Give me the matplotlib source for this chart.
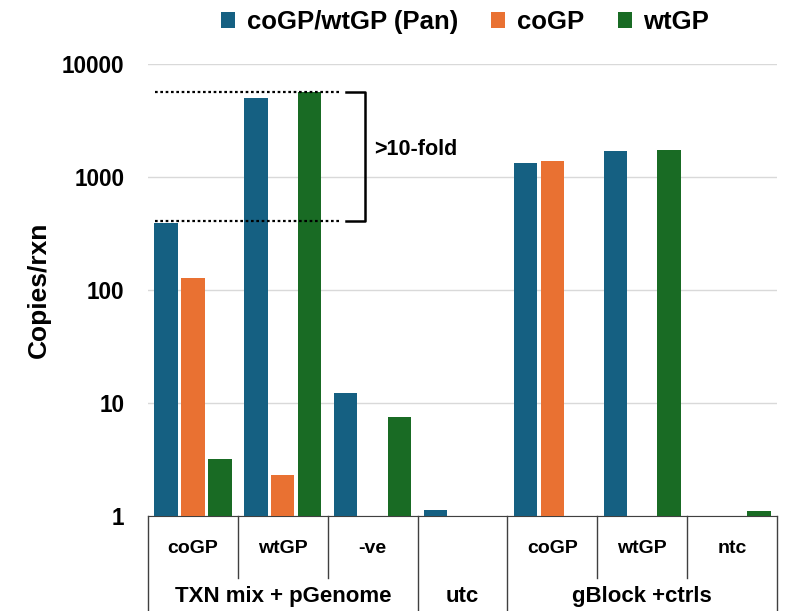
import numpy as np
import matplotlib
matplotlib.use('Agg')
from matplotlib import pyplot as plt
from matplotlib.transforms import blended_transform_factory

# data (copies/rxn), nan = no bar
categories = ['coGP', 'wtGP', '-ve', 'utc', 'coGP', 'wtGP', 'ntc']
groups = [('TXN mix + pGenome', 0, 2), ('utc', 3, 3), ('gBlock +ctrls', 4, 6)]
series_names = ['coGP/wtGP (Pan)', 'coGP', 'wtGP']
pan = [389, 4970, 12.3, 1.13, 1322, 1688, np.nan]
cogp = [128, 2.29, np.nan, np.nan, 1394, np.nan, np.nan]
wtgp = [3.18, 5690, 7.57, np.nan, np.nan, 1733, 1.1]
yticks = [1, 10, 100, 1000, 10000]

colors = ['#156082', '#E97132', '#196B24']
plt.rcParams['font.family'] = ['Liberation Sans', 'DejaVu Sans']

fig = plt.figure(figsize=(7.87, 6.11), dpi=100)
ax = fig.add_axes([148 / 787, 95 / 611, 629 / 787, 452 / 611])

x = np.arange(len(categories))
step, w = 0.3, 0.26
for i, (vals, c, name) in enumerate(zip([pan, cogp, wtgp], colors, series_names)):
    ax.bar(x + (i - 1) * step, vals, w, color=c, label=name, zorder=3)

ax.set_yscale('log')
ax.set_ylim(1, 10000)
ax.set_xlim(-0.5, len(categories) - 0.5)
ax.set_yticks(yticks)
ax.set_yticklabels([str(t) for t in yticks], fontsize=16.3, fontweight='bold')
ax.yaxis.set_minor_locator(matplotlib.ticker.NullLocator())
ax.tick_params(axis='y', length=0, pad=17)
ax.set_xticks([])
ax.grid(axis='y', color='#d9d9d9', lw=1, zorder=0)
for s in ['left', 'right', 'top']:
    ax.spines[s].set_visible(False)
ax.spines['bottom'].set_color('#404040')
ax.set_ylabel('Copies/rxn', fontsize=19, fontweight='bold')
ax.yaxis.set_label_coords(-0.155, 0.5)

# two-level category axis drawn as a table under the plot
tr = blended_transform_factory(ax.transData, ax.transAxes)
ends = {g[1] for g in groups} | {g[2] + 1 for g in groups}
for b in range(len(categories) + 1):
    y0 = -0.3 if b in ends else -0.137
    ax.plot([b - 0.5, b - 0.5], [0, y0], color='#404040', lw=1,
            transform=tr, clip_on=False)
for i, lab in enumerate(categories):
    if any(g[1] == g[2] == i for g in groups):
        continue
    ax.text(i, -0.071, lab, transform=tr, ha='center', va='center',
            fontsize=14, fontweight='bold')
for name, a, b in groups:
    ax.text((a + b) / 2, -0.179, name, transform=tr, ha='center',
            va='center', fontsize=16, fontweight='bold')

# fold-change annotation
hi, lo = wtgp[1], pan[0] * 1.05
for yv in (hi, lo):
    ax.plot([-0.42, 1.63], [yv, yv], color='black', lw=1.6,
            dashes=(1.2, 1.2), zorder=4)
ax.plot([1.70, 1.91, 1.91, 1.70], [hi, hi, lo, lo], color='black', lw=1.8,
        zorder=4)
ax.text(2.02, 1750, '>10-fold', fontsize=15.5, fontweight='bold', va='center')

fig.legend(loc='center', bbox_to_anchor=(465 / 787, 1 - 22 / 611), ncol=3,
           frameon=False, prop={'size': 18.5, 'weight': 'bold'},
           handlelength=0.55, handleheight=0.55, handletextpad=0.45,
           columnspacing=1.3)

fig.savefig('out.png', dpi=100)
